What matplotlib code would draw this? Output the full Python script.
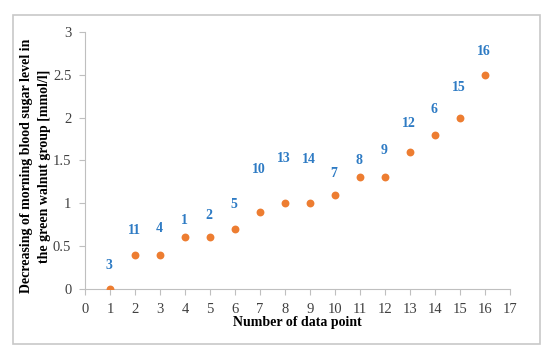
import matplotlib.pyplot as plt
from matplotlib.patches import Rectangle

# Data
data_point = [1, 2, 3, 4, 5, 6, 7, 8, 9, 10, 11, 12, 13, 14, 15, 16]
decrease = [0, 0.4, 0.4, 0.6, 0.6, 0.7, 0.9, 1.0, 1.0, 1.1, 1.3, 1.3, 1.6, 1.8, 2.0, 2.5]
patient = ['3', '11', '4', '1', '2', '5', '10', '13', '14', '7', '8', '9', '12', '6', '15', '16']
# label heights above each point (data units)
label_y = [0.27, 0.68, 0.71, 0.80, 0.86, 0.98, 1.39, 1.52, 1.51, 1.35, 1.50, 1.62, 1.93, 2.09, 2.35, 2.77]

plt.rcParams['font.family'] = ['Liberation Serif', 'DejaVu Serif']

fig = plt.figure(figsize=(5.5, 3.54), dpi=100)
ax = fig.add_axes([0.155, 0.184, 0.772, 0.726])

# frame around whole chart
fig.patches.append(Rectangle((13 / 550, 1 - 344 / 354), 527 / 550, 329 / 354,
                             transform=fig.transFigure, fill=False,
                             edgecolor='#c8c8c8', linewidth=1.2))

ax.scatter(data_point, decrease, s=32, color='#ED7D31', zorder=3, linewidths=0)
for x, y, t in zip(data_point, label_y, patient):
    ax.text(x - 0.05, y, t, ha='center', va='center', color='#2E7BC4',
            fontsize=10, fontweight='bold')

ax.set_xlim(0, 17)
ax.set_ylim(0, 3)
ax.set_xticks(range(0, 18))
ax.set_yticks([0, 0.5, 1, 1.5, 2, 2.5, 3])
ax.set_yticklabels(['0', '0.5', '1', '1.5', '2', '2.5', '3'])

for s in ['top', 'right']:
    ax.spines[s].set_visible(False)
for s in ['left', 'bottom']:
    ax.spines[s].set_color('#bfbfbf')
    ax.spines[s].set_linewidth(0.8)
ax.tick_params(axis='both', colors='#bfbfbf', labelcolor='#404040',
               labelsize=10.5, length=4, width=0.8)
ax.tick_params(axis='y', pad=6)
ax.tick_params(axis='x', pad=6)

# axis titles
fig.text(297 / 550, 1 - 316 / 354, 'Number of data point', ha='center', va='top',
         fontsize=10, fontweight='bold')
fig.text(35.5 / 550, 1 - 166 / 354,
         'Decreasing of morning blood sugar level in\nthe green walnut group [mmol/l]',
         rotation=90, ha='center', va='center', multialignment='center',
         fontsize=10, fontweight='bold', linespacing=1.5)

fig.savefig('out.png', dpi=100)
